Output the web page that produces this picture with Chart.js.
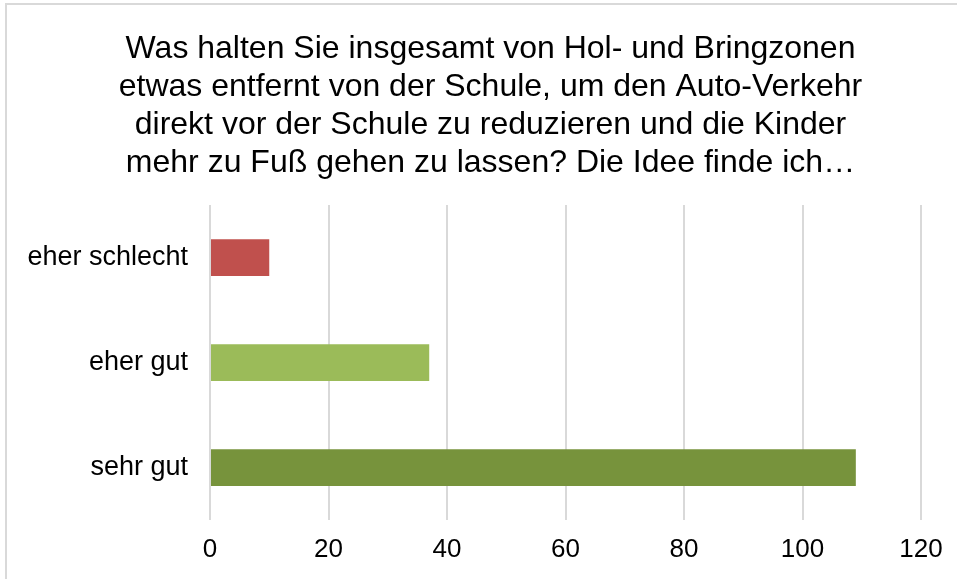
<!DOCTYPE html>
<html>
<head>
<meta charset="utf-8">
<script src="https://cdn.jsdelivr.net/npm/chart.js@4/dist/chart.umd.min.js"></script>
<style>
  html, body { margin: 0; padding: 0; background: #fff; overflow: hidden; }
  #wrap { position: relative; width: 957px; height: 579px; }
  #frame {
    position: absolute; left: 5px; top: 3px; width: 1200px; height: 900px;
    border-left: 2px solid #d9d9d9; border-top: 2px solid #d9d9d9;
    pointer-events: none;
  }
</style>
</head>
<body>
<div id="wrap">
  <canvas id="myChart" width="957" height="579"></canvas>
  <div id="frame"></div>
</div>
<script>
const titleLines = [
  'Was halten Sie insgesamt von Hol- und Bringzonen',
  'etwas entfernt von der Schule, um den Auto-Verkehr',
  'direkt vor der Schule zu reduzieren und die Kinder',
  'mehr zu Fuß gehen zu lassen? Die Idee finde ich…',
];
const categories = ['eher schlecht', 'eher gut', 'sehr gut'];
const answers = [10, 37, 109];
const barColors = ['#c0504d', '#9bbb59', '#77933c'];
const xTicks = [0, 20, 40, 60, 80, 100, 120];

const fontFamily = "'Liberation Sans', Arial, sans-serif";

// the title is centred on the whole frame, not on the plot
const widenTitle = {
  id: 'widenTitle',
  afterLayout(chart) {
    chart.titleBlock.right = chart.width;
  },
};

window.addEventListener('DOMContentLoaded', () => {
  const ctx = document.getElementById('myChart');

  const data = {
    labels: categories,
    datasets: [{
      data: answers,
      backgroundColor: barColors,
      borderWidth: 0,
      barPercentage: 0.35,
      categoryPercentage: 1,
    }],
  };

  const config = {
    type: 'bar',
    data,
    plugins: [widenTitle],
    options: {
      indexAxis: 'y',
      responsive: false,
      animation: false,
      devicePixelRatio: 1,
      layout: {
        padding: { left: 24, right: 36, top: 0, bottom: 0 },
      },
      plugins: {
        legend: { display: false },
        tooltip: { enabled: false },
        title: {
          display: true,
          text: titleLines,
          color: '#000',
          font: { family: fontFamily, size: 32, weight: 'normal', lineHeight: '38px' },
          padding: { top: 30, bottom: 23 },
        },
      },
      scales: {
        x: {
          min: xTicks[0],
          max: xTicks[xTicks.length - 1],
          afterBuildTicks: (scale) => {
            scale.ticks = xTicks.map((v) => ({ value: v }));
          },
          afterFit: (scale) => { scale.height = 59; },
          grid: { color: '#d9d9d9', lineWidth: 2, drawTicks: false },
          border: { display: false },
          ticks: {
            color: '#000',
            padding: 14,
            font: { family: fontFamily, size: 26 },
          },
        },
        y: {
          afterFit: (scale) => { scale.width = 186; },
          grid: { display: false },
          border: { display: false },
          ticks: {
            color: '#000',
            padding: 14,
            font: { family: fontFamily, size: 27 },
          },
        },
      },
    },
  };

  const chart = new Chart(ctx, config);
});
</script>
</body>
</html>
